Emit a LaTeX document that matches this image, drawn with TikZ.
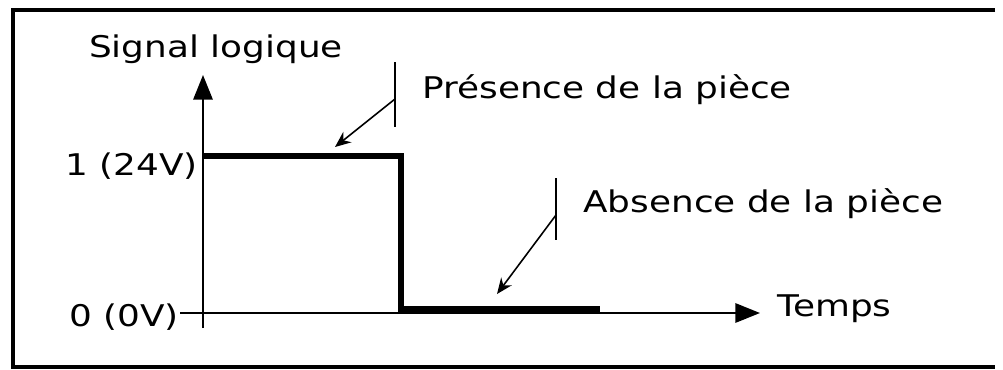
\documentclass[tikz,border=0pt]{standalone}
\usepackage{fontspec}
\setmainfont{DejaVu Sans}[FakeStretch=1.2]
\usetikzlibrary{positioning}
\usetikzlibrary{arrows}
\usetikzlibrary{arrows.meta}
\tikzset{lbl/.style={inner sep=0pt,font=\fontsize{17}{20}\selectfont},
	axis line/.style={line width=1.1pt,-{Triangle[length=14pt,width=11pt]}},
	signal line/.style={line width=3.4pt,line join=miter},
	tick mark/.style={line width=1.2pt},
	pointer/.style={line width=0.9pt,-{Stealth[length=9pt,width=7.5pt]}},}

\begin{document}
\begin{tikzpicture}[x=0.02cm,y=-0.02cm]
	\useasboundingbox (0,0) rectangle (1003,369);
	\draw[line width=1.9pt] (995,10) -- (13,10) -- (13,367) -- (995,367);

	% axes
	\coordinate (o) at (203,313);
	\coordinate (ybot) at (203,328);
	\coordinate (ytop) at (203,75);
	\coordinate (xleft) at (180,313);
	\coordinate (xright) at (760,313);
	\draw[axis line] (ybot) -- (ytop);
	\draw[axis line] (xleft) -- (xright);

	\node[lbl, anchor=base] (ylab) at (216,57) {Signal logique};
	\node[lbl, anchor=base west] (xlab) at (777,316) {Temps};
	\node[lbl, anchor=base east] (high) at (198,175) {1 (24V)};
	\node[lbl, anchor=base east] (low) at (179,326) {0 (0V)};

	% signal
	\coordinate (s0) at (203,156);
	\coordinate (s1) at (401,156);
	\coordinate (s2) at (401,309);
	\coordinate (s3) at (600,309);
	\draw[signal line] (s0) -- (s1) -- (s2) -- (s3);

	% annotations
	\coordinate (pa) at (395,62);
	\coordinate (pb) at (395,127);
	\coordinate (pc) at (395,99);
	\coordinate (pd) at (335,147);
	\draw[tick mark] (pa) -- (pb);
	\draw[pointer] (pc) -- (pd);
	\node[lbl, anchor=base west] (pres) at (422,98) {Présence de la pièce};

	\coordinate (aa) at (556,178);
	\coordinate (ab) at (556,240);
	\coordinate (ac) at (556,215);
	\coordinate (ad) at (497,294);
	\draw[tick mark] (aa) -- (ab);
	\draw[pointer] (ac) -- (ad);
	\node[lbl, anchor=base west] (abs) at (583,212) {Absence de la pièce};
\end{tikzpicture}
\end{document}
